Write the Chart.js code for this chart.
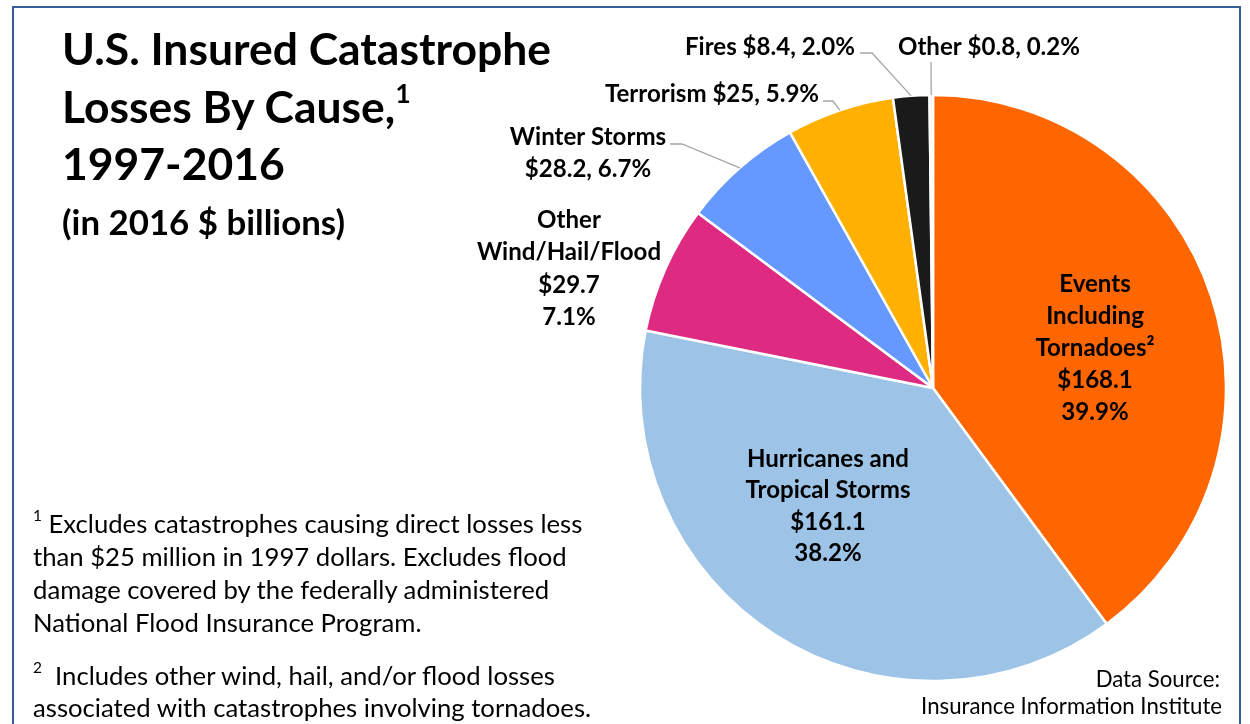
<!DOCTYPE html>
<html>
<head>
<meta charset="utf-8">
<script src="https://cdn.jsdelivr.net/npm/chart.js@4.4.0/dist/chart.umd.min.js"></script>
<style>
  html, body { margin: 0; padding: 0; background: #fff; }
  #quadro { position: relative; width: 1250px; height: 724px; overflow: hidden; font-family: Lato, "Open Sans", sans-serif; color: #000; }
  #moldura { position: absolute; left: 12px; top: 6px; width: 1229px; height: 760px; border: 2px solid #3B5C9C; box-sizing: border-box; }
  #grafico { position: absolute; left: 0; top: 0; }
  .linha { position: absolute; white-space: nowrap; line-height: 1; }
  .linha sup { font-size: 0.6em; font-weight: 400; vertical-align: 0.75em; line-height: 0; }
  .linha sup.forte { font-weight: 700; }
</style>
</head>
<body>
<div id="quadro">
  <canvas id="grafico" width="1250" height="724"></canvas>
  <div id="moldura"></div>
  <div id="textos"></div>
</div>
<script>
// Perdas seguradas por causa, 1997-2016 (US$ bilhões de 2016)
const categorias = [
    ['Events', 'Including', 'Tornadoes²'],
    ['Hurricanes and', 'Tropical Storms'],
    ['Other', 'Wind/Hail/Flood'],
    ['Winter Storms'],
    ['Terrorism'],
    ['Fires'],
    ['Other']
];
const perdas = [168.1, 161.1, 29.7, 28.2, 25, 8.4, 0.8];
const percentuais = [39.9, 38.2, 7.1, 6.7, 5.9, 2.0, 0.2];
const cores = ['#FF6600', '#9DC3E6', '#DE2A80', '#6699FF', '#FFB000', '#1A1A1A', '#F2F2F2'];

// Onde cada rótulo fica: centro da primeira linha, modo de montagem e cotovelo da linha-guia
const layoutRotulos = [
    { x: 1095, y: 284, passo: 32, modo: 'bloco' },
    { x: 828, y: 459, passo: 31.5, modo: 'bloco' },
    { x: 569, y: 220, passo: 32.5, modo: 'bloco' },
    { x: 588, y: 137, passo: 32, modo: 'duas', guia: [[670, 144], [682, 144]] },
    { x: 712, y: 94, passo: 32, modo: 'uma', guia: [[823, 101], [833, 101]] },
    { x: 770, y: 47, passo: 32, modo: 'uma', guia: [[860, 53], [872, 53]] },
    { x: 989, y: 47, passo: 32, modo: 'uma', guia: [[931, 62]] }
];

const FONTE = 'Lato, "Open Sans", sans-serif';
const medidor = document.createElement('canvas').getContext('2d');

function tamanhoPara(texto, peso, largura) {
    medidor.font = `${peso} 100px ${FONTE}`;
    return 100 * largura / medidor.measureText(texto).width;
}

function montarLinhas(i) {
    const valor = '$' + perdas[i];
    const pct = percentuais[i].toFixed(1) + '%';
    const modo = layoutRotulos[i].modo;
    if (modo === 'bloco') return [...categorias[i], valor, pct];
    if (modo === 'duas') return [...categorias[i], `${valor}, ${pct}`];
    return [`${categorias[i].join(' ')} ${valor}, ${pct}`];
}

// Rótulos das fatias, presos à geometria dos arcos
const rotulosFatias = {
    id: 'rotulosFatias',
    afterDatasetsDraw(chart) {
        const ctx = chart.ctx;
        const arcos = chart.getDatasetMeta(0).data;
        const tam = tamanhoPara('Tropical Storms', 700, 165);
        ctx.save();
        ctx.font = `700 ${tam}px ${FONTE}`;
        ctx.fillStyle = '#000';
        ctx.textAlign = 'center';
        ctx.textBaseline = 'middle';

        arcos.forEach((arco, i) => {
            const cfg = layoutRotulos[i];
            const { x, y, startAngle, endAngle, outerRadius } = arco.getProps(['x', 'y', 'startAngle', 'endAngle', 'outerRadius'], true);

            if (cfg.guia) {
                const meio = (startAngle + endAngle) / 2;
                const fimX = x + Math.cos(meio) * outerRadius;
                const fimY = y + Math.sin(meio) * outerRadius;
                ctx.beginPath();
                ctx.strokeStyle = '#A6A6A6';
                ctx.lineWidth = 1.3;
                ctx.moveTo(cfg.guia[0][0], cfg.guia[0][1]);
                cfg.guia.slice(1).forEach(p => ctx.lineTo(p[0], p[1]));
                ctx.lineTo(fimX, fimY);
                ctx.stroke();
            }

            montarLinhas(i).forEach((txt, k) => {
                ctx.fillText(txt, cfg.x, cfg.y + k * cfg.passo);
            });
        });
        ctx.restore();
    }
};

new Chart(document.getElementById('grafico').getContext('2d'), {
    type: 'pie',
    data: {
        labels: categorias.map(c => c.join(' ')),
        datasets: [{
            data: perdas,
            backgroundColor: cores,
            borderColor: '#FFFFFF',
            borderWidth: 2.5,
            radius: 293
        }]
    },
    options: {
        responsive: false,
        animation: false,
        layout: { padding: { left: 616, top: 52, right: 0, bottom: 0 } },
        plugins: {
            legend: { display: false },
            tooltip: { enabled: false }
        }
    },
    plugins: [rotulosFatias]
});

// Título, notas de rodapé e fonte
const textos = document.getElementById('textos');
function linha(html, x, y, tam, peso, alinhar) {
    const d = document.createElement('div');
    d.className = 'linha';
    d.innerHTML = html;
    d.style.fontSize = tam + 'px';
    d.style.fontWeight = peso;
    d.style.top = (y - tam / 2) + 'px';
    if (alinhar === 'direita') d.style.right = (1250 - x) + 'px';
    else d.style.left = x + 'px';
    textos.appendChild(d);
}

const tamTitulo = tamanhoPara('U.S. Insured Catastrophe', 700, 489);
linha('U.S. Insured Catastrophe', 62, 48, tamTitulo, 700);
linha('Losses By Cause,<sup class="forte">1</sup>', 62, 106, tamTitulo, 700);
linha('1997-2016', 62, 163, tamTitulo, 700);
linha('(in 2016 $ billions)', 62, 222, tamanhoPara('(in 2016 $ billions)', 700, 283), 700);

const tamNota = tamanhoPara('than $25 million in 1997 dollars. Excludes flood', 400, 534);
linha('<sup>1</sup> Excludes catastrophes causing direct losses less', 33, 524, tamNota, 400);
linha('than $25 million in 1997 dollars. Excludes flood', 33, 557, tamNota, 400);
linha('damage covered by the federally administered', 33, 590, tamNota, 400);
linha('National Flood Insurance Program.', 33, 623, tamNota, 400);
linha('<sup>2</sup>&nbsp; Includes other wind, hail, and/or flood losses', 33, 676, tamNota, 400);
linha('associated with catastrophes involving tornadoes.', 33, 708, tamNota, 400);

const tamFonte = tamanhoPara('Insurance Information Institute', 400, 301);
linha('Data Source:', 1220, 679, tamFonte, 400, 'direita');
linha('Insurance Information Institute', 1222, 706, tamFonte, 400, 'direita');
</script>
</body>
</html>
